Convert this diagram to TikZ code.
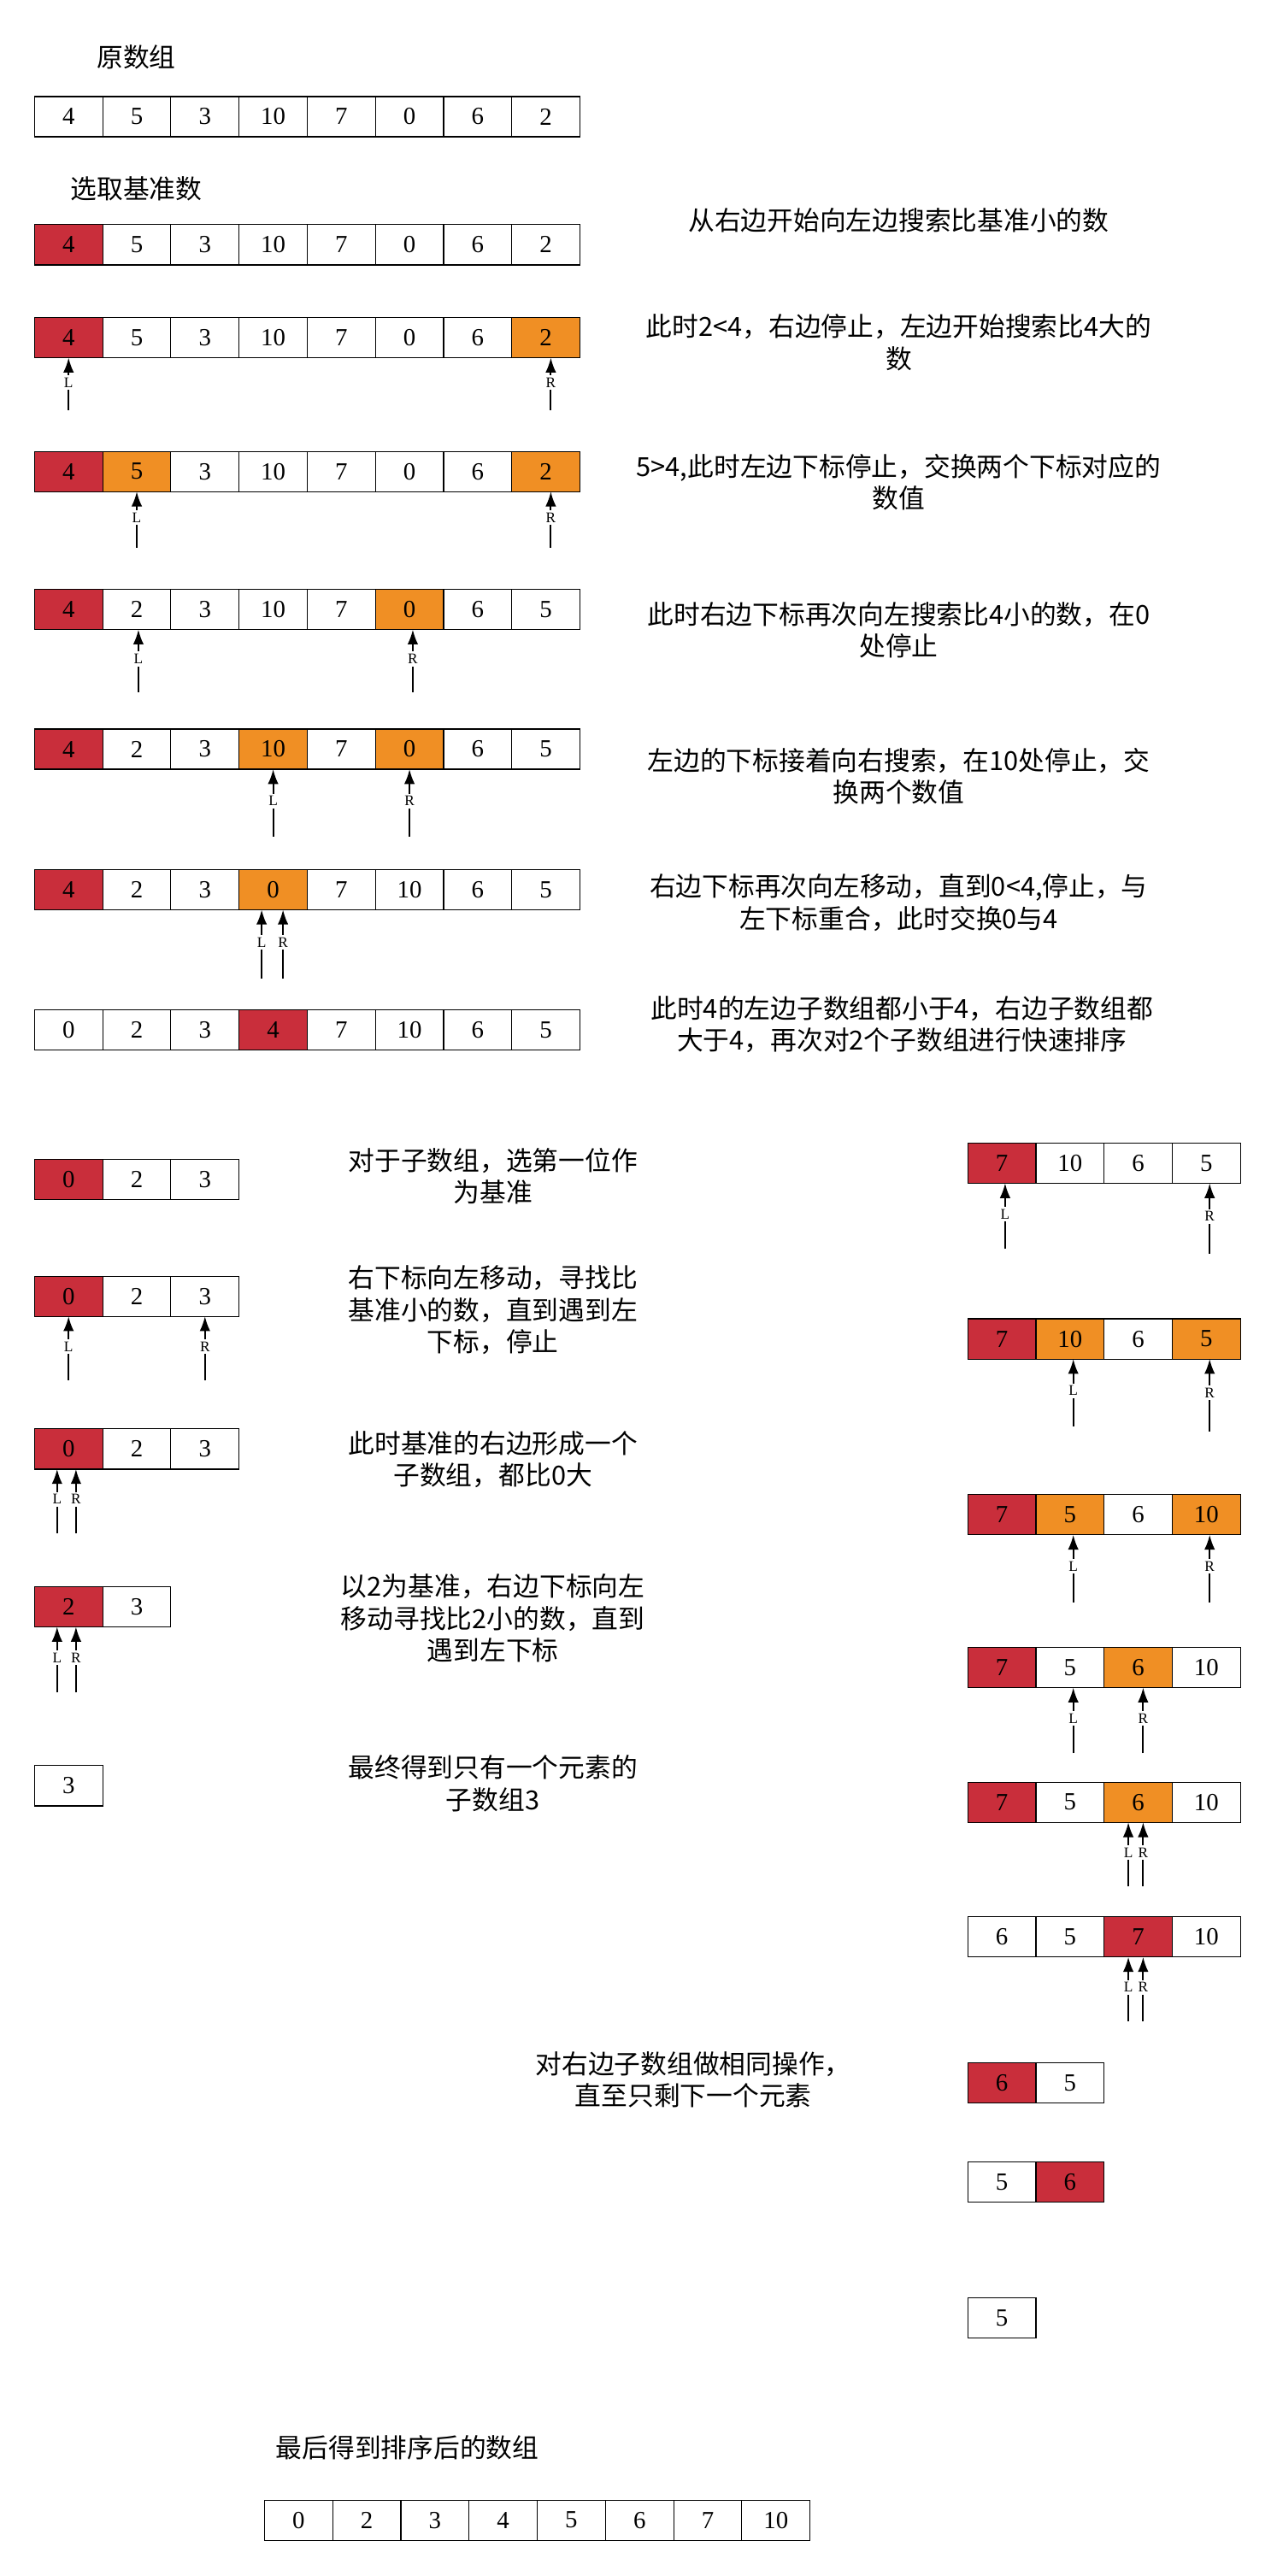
\documentclass[tikz,border=0pt]{standalone}
\usepackage{fontspec}
\setmainfont{Liberation Serif}
\newfontfamily\cjk{Noto Sans CJK SC}
\usetikzlibrary{arrows.meta}

\definecolor{pivotred}{HTML}{C92E3B}
\definecolor{ptrorange}{HTML}{F08F24}

% one row of array cells: name, left x, centre y, value/colour list
\newcommand{\cellrow}[4]{%
  \foreach \v/\c [count=\i] in {#4}
    \node[cellbox, fill=\c] (#1-\i) at ({#2+41.5*\i-20.75}, #3) {\v};
}
% index pointer under a cell: cell, xshift, label, length
\newcommand{\ptr}[4]{%
  \coordinate (#1-#3) at ([xshift=#2pt, yshift=-#4pt]#1.south);
  \draw[ptrline] (#1-#3) -- node[ptrlbl] {#3} ([xshift=#2pt]#1.south);
}

\begin{document}
\begin{tikzpicture}[
    x=1pt, y=1pt,
    cellbox/.style={draw, line width=0.6pt, minimum width=41.5pt, minimum height=24.5pt,
                    inner sep=0pt, outer sep=0pt, font=\fontsize{15}{15}\selectfont},
    ptrline/.style={-{Latex[length=9pt,width=6.5pt]}, line width=1pt},
    ptrlbl/.style={fill=white, inner sep=1.5pt, pos=0.53, font=\fontsize{9}{9}\selectfont},
    note/.style={align=center, inner sep=0pt, font=\cjk\fontsize{16}{19.5}\selectfont}
]
\useasboundingbox (0,0) rectangle (777,-1568);

% main array
\node[note] (title1) at (83,-35) {原数组};
\cellrow{a1}{21}{-71}{4/white,5/white,3/white,10/white,7/white,0/white,6/white,2/white}

\node[note] (title2) at (83,-115) {选取基准数};
\cellrow{a2}{21}{-149}{4/pivotred,5/white,3/white,10/white,7/white,0/white,6/white,2/white}
\node[note] (t2) at (547,-134) {从右边开始向左边搜索比基准小的数};

\cellrow{a3}{21}{-205.5}{4/pivotred,5/white,3/white,10/white,7/white,0/white,6/white,2/ptrorange}
\ptr{a3-1}{0}{L}{32}
\ptr{a3-8}{3}{R}{32}
\node[note] (t3) at (547,-208.5) {此时2<4，右边停止，左边开始搜索比4大的\\数};

\cellrow{a4}{21}{-287}{4/pivotred,5/ptrorange,3/white,10/white,7/white,0/white,6/white,2/ptrorange}
\ptr{a4-2}{0}{L}{34}
\ptr{a4-8}{3}{R}{34}
\node[note] (t4) at (547,-293.5) {5>4,此时左边下标停止，交换两个下标对应的\\数值};

\cellrow{a5}{21}{-371}{4/pivotred,2/white,3/white,10/white,7/white,0/ptrorange,6/white,5/white}
\ptr{a5-2}{1}{L}{38}
\ptr{a5-6}{2}{R}{38}
\node[note] (t5) at (547,-383.5) {此时右边下标再次向左搜索比4小的数，在0\\处停止};

\cellrow{a6}{21}{-456}{4/pivotred,2/white,3/white,10/ptrorange,7/white,0/ptrorange,6/white,5/white}
\ptr{a6-4}{0}{L}{41}
\ptr{a6-6}{0}{R}{41}
\node[note] (t6) at (547,-472.5) {左边的下标接着向右搜索，在10处停止，交\\换两个数值};

\cellrow{a7}{21}{-541.5}{4/pivotred,2/white,3/white,0/ptrorange,7/white,10/white,6/white,5/white}
\ptr{a7-4}{-7}{L}{42}
\ptr{a7-4}{6}{R}{42}
\node[note] (t7) at (547,-549.5) {右边下标再次向左移动，直到0<4,停止，与\\左下标重合，此时交换0与4};

\cellrow{a8}{21}{-627}{0/white,2/white,3/white,4/pivotred,7/white,10/white,6/white,5/white}
\node[note] (t8) at (549,-623.5) {此时4的左边子数组都小于4，右边子数组都\\大于4，再次对2个子数组进行快速排序};

% left sub-array
\cellrow{b1}{21}{-718}{0/pivotred,2/white,3/white}
\node[note] (t9) at (300,-716) {对于子数组，选第一位作\\为基准};

\cellrow{b2}{21}{-789}{0/pivotred,2/white,3/white}
\ptr{b2-1}{0}{L}{39}
\ptr{b2-3}{0}{R}{39}
\node[note] (t10) at (300,-797.5) {右下标向左移动，寻找比\\基准小的数，直到遇到左\\下标，停止};

\cellrow{b3}{21}{-882}{0/pivotred,2/white,3/white}
\ptr{b3-1}{-7}{L}{39}
\ptr{b3-1}{4.5}{R}{39}
\node[note] (t11) at (300,-888.5) {此时基准的右边形成一个\\子数组，都比0大};

\cellrow{b4}{21}{-978}{2/pivotred,3/white}
\ptr{b4-1}{-7}{L}{40}
\ptr{b4-1}{4.5}{R}{40}
\node[note] (t12) at (300,-985) {以2为基准，右边下标向左\\移动寻找比2小的数，直到\\遇到左下标};

\cellrow{b5}{21}{-1087}{3/white}
\node[note] (t13) at (300,-1085.5) {最终得到只有一个元素的\\子数组3};

% right sub-array
\cellrow{c1}{589}{-708}{7/pivotred,10/white,6/white,5/white}
\ptr{c1-1}{2}{L}{40}
\ptr{c1-4}{2}{R}{43}

\cellrow{c2}{589}{-815}{7/pivotred,10/ptrorange,6/white,5/ptrorange}
\ptr{c2-2}{2}{L}{41}
\ptr{c2-4}{2}{R}{44}

\cellrow{c3}{589}{-922}{7/pivotred,5/ptrorange,6/white,10/ptrorange}
\ptr{c3-2}{2}{L}{41}
\ptr{c3-4}{2}{R}{41}

\cellrow{c4}{589}{-1015}{7/pivotred,5/white,6/ptrorange,10/white}
\ptr{c4-2}{2}{L}{40}
\ptr{c4-3}{3}{R}{40}

\cellrow{c5}{589}{-1097}{7/pivotred,5/white,6/ptrorange,10/white}
\ptr{c5-3}{-6}{L}{39}
\ptr{c5-3}{3}{R}{39}

\cellrow{c6}{589}{-1179}{6/white,5/white,7/pivotred,10/white}
\ptr{c6-3}{-6}{L}{39}
\ptr{c6-3}{3}{R}{39}

\node[note] (t14) at (422,-1266) {对右边子数组做相同操作，\\直至只剩下一个元素};
\cellrow{c7}{589}{-1268}{6/pivotred,5/white}
\cellrow{c8}{589}{-1328}{5/white,6/pivotred}
\cellrow{c9}{589}{-1411}{5/white}

% result
\node[note] (title3) at (248,-1490) {最后得到排序后的数组};
\cellrow{d}{161}{-1534}{0/white,2/white,3/white,4/white,5/white,6/white,7/white,10/white}
\end{tikzpicture}
\end{document}
